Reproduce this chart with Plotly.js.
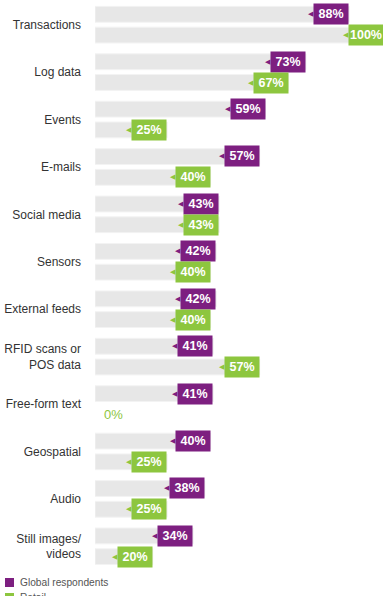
<!DOCTYPE html>
<html>
<head>
<meta charset="utf-8">
<script src="https://cdn.plot.ly/plotly-3.0.1.min.js"></script>
<style>
  html, body { margin: 0; padding: 0; overflow: hidden; background: #fff; }
  #chart { width: 384px; height: 596px; }
</style>
</head>
<body>
<div id="chart"></div>
<script>
// Data sources being analysed, share of respondents (%)
const categories = [
  'Transactions', 'Log data', 'Events', 'E-mails', 'Social media', 'Sensors',
  'External feeds', 'RFID scans or<br>POS data', 'Free-form text', 'Geospatial',
  'Audio', 'Still images/<br>videos'
];
const globalValues = [88, 73, 59, 57, 43, 42, 42, 41, 41, 40, 38, 34];
const retailValues = [100, 67, 25, 40, 43, 40, 40, 57, 0, 25, 25, 20];
const seriesNames = ['Global respondents', 'Retail'];

const PURPLE = '#7d1f80';
const GREEN = '#8dc63f';
const TRACK = '#e7e7e7';
const FONT = 'Liberation Sans, Arial, Helvetica, sans-serif';

// Plot area geometry (pixels), used to place the legend in paper units
const PLOT_LEFT = 95, PLOT_W = 289, PLOT_TOP = 1, PLOT_H = 569;
const pxX = px => (px - PLOT_LEFT) / PLOT_W;
const pxY = px => (PLOT_TOP + PLOT_H - px) / PLOT_H;

// Grey tracks: one per series, grouped per category (no outline on empty tracks)
function track(values, name) {
  return {
    type: 'bar',
    orientation: 'h',
    name: name,
    y: categories,
    x: values,
    marker: {
      color: TRACK,
      line: { color: '#f3f3f3', width: values.map(v => (v === 0 ? 0 : 1)) }
    },
    hoverinfo: 'skip',
    showlegend: false
  };
}
const traces = [track(globalValues, seriesNames[0]), track(retailValues, seriesNames[1])];

// Value tags sitting at the end of each track, with a small pointer on the left
const annotations = [];
function addTags(values, color, shift) {
  values.forEach((v, i) => {
    if (v === 0) {
      annotations.push({
        x: 0, y: categories[i], xref: 'x', yref: 'y', yshift: shift,
        xanchor: 'left', xshift: 7, showarrow: false,
        text: v + '%', font: { family: FONT, size: 13, color: color }
      });
      return;
    }
    annotations.push({
      x: v, y: categories[i], xref: 'x', yref: 'y', yshift: shift,
      xanchor: 'right', showarrow: false,
      width: 34, height: 20, borderpad: 0, bgcolor: color,
      text: v + '%', align: 'center',
      font: { family: FONT, size: 12.5, color: '#ffffff', weight: 'bold' }
    });
    annotations.push({
      x: v, y: categories[i], xref: 'x', yref: 'y', yshift: shift,
      xanchor: 'right', xshift: -33, showarrow: false,
      text: '\u25C0', font: { family: 'DejaVu Sans', size: 7, color: color }
    });
  });
}
addTags(globalValues, PURPLE, 10.5);
addTags(retailValues, GREEN, -10.5);

// Legend drawn below the plot area
const shapes = [];
[[seriesNames[0], PURPLE], [seriesNames[1], GREEN]].forEach((item, k) => {
  const yTop = 578 + k * 15;
  shapes.push({
    type: 'rect', xref: 'paper', yref: 'paper',
    x0: pxX(5), x1: pxX(14),
    y0: pxY(yTop + 9), y1: pxY(yTop),
    fillcolor: item[1], line: { width: 0 }
  });
  annotations.push({
    xref: 'paper', yref: 'paper',
    x: pxX(18), y: pxY(yTop + 4.5),
    xanchor: 'left', yanchor: 'middle', showarrow: false,
    text: item[0], font: { family: FONT, size: 10.2, color: '#555555' }
  });
});

const layout = {
  width: 384,
  height: 596,
  margin: { l: PLOT_LEFT, r: 0, t: PLOT_TOP, b: 596 - PLOT_TOP - PLOT_H },
  paper_bgcolor: '#ffffff',
  plot_bgcolor: '#ffffff',
  barmode: 'group',
  bargap: 0.125,
  bargroupgap: 0.238,
  showlegend: false,
  xaxis: {
    range: [0, 100],
    showgrid: false, zeroline: false, showticklabels: false, ticks: '',
    fixedrange: true
  },
  yaxis: {
    type: 'category',
    autorange: 'reversed',
    showgrid: false, zeroline: false, ticks: '',
    ticklabelstandoff: 13,
    tickfont: { family: FONT, size: 12, color: '#333333' },
    fixedrange: true
  },
  annotations: annotations,
  shapes: shapes
};

Plotly.newPlot('chart', traces, layout, { displayModeBar: false, staticPlot: true });
</script>
</body>
</html>
